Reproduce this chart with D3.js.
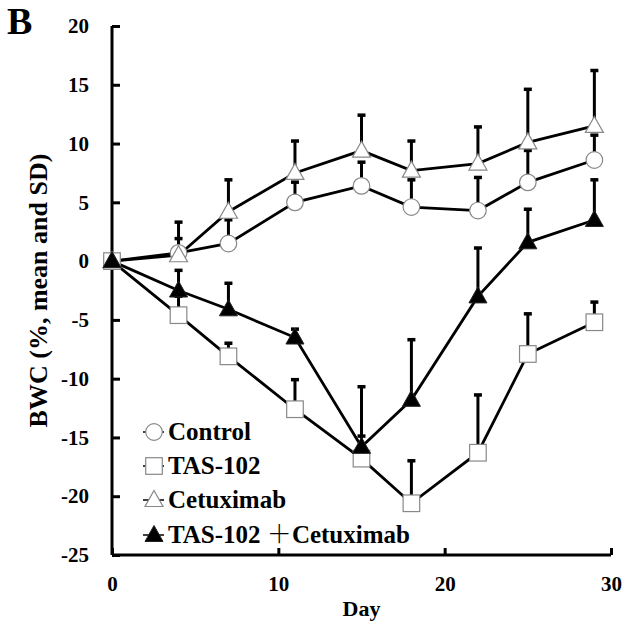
<!DOCTYPE html>
<html>
<head>
<meta charset="utf-8">
<script src="https://cdn.jsdelivr.net/npm/d3@7"></script>
</head>
<body style="margin:0;padding:0;background:#fff">
<svg id="chart" width="630" height="635" style="display:block"></svg>
<script>
// ---- Data ----
const days = [0, 4, 7, 11, 15, 18, 22, 25, 29];
const controlMean   = [0, 0.7, 1.5, 5.0, 6.4, 4.6, 4.3, 6.7, 8.6];
const controlTop    = [0, 2.0, 3.6, 6.8, 8.5, 7.0, 7.2, 9.5, 10.8];
const tasMean       = [0, -4.6, -8.1, -12.6, -16.8, -20.6, -16.3, -7.9, -5.2];
const tasTop        = [0, -2.9, -6.9, -10.0, -14.8, -16.9, -11.3, -4.4, -3.4];
const cetMean       = [0, 0.5, 4.2, 7.5, 9.4, 7.7, 8.3, 10.1, 11.5];
const cetTop        = [0, 3.4, 7.0, 10.3, 12.5, 10.3, 11.5, 14.7, 16.3];
const comboMean     = [0, -2.5, -4.1, -6.5, -15.8, -11.8, -3.0, 1.6, 3.5];
const comboTop      = [0, -0.7, -1.8, -5.7, -10.6, -6.6, 1.2, 4.5, 7.0];
const seriesNames   = ["Control", "TAS-102", "Cetuximab", "TAS-102 \uFF0BCetuximab"];
const yTicks = [-25, -20, -15, -10, -5, 0, 5, 10, 15, 20];
const xTicks = [0, 10, 20, 30];

const series = [
  { name: seriesNames[0], mean: controlMean, top: controlTop, shape: "circle" },
  { name: seriesNames[1], mean: tasMean, top: tasTop, shape: "square" },
  { name: seriesNames[2], mean: cetMean, top: cetTop, shape: "triangle" },
  { name: seriesNames[3], mean: comboMean, top: comboTop, shape: "filledTriangle" }
];

const FONT = "'Liberation Serif', 'Times New Roman', serif";
const svg = d3.select("#chart");
const x = d3.scaleLinear().domain([0, 30]).range([112, 611]);
const y = d3.scaleLinear().domain([-25, 20]).range([555, 26]);

// ---- Axes ----
const yAxis = d3.axisLeft(y).tickValues(yTicks).tickSize(-8).tickPadding(23)
  .tickFormat(d => String(d));
const xAxis = d3.axisBottom(x).tickValues(xTicks).tickSize(-7).tickPadding(21)
  .tickFormat(d => String(d));

const gy = svg.append("g").attr("transform", `translate(${x(0)},0)`).call(yAxis);
const gx = svg.append("g").attr("transform", `translate(0,${y(-25)})`).call(xAxis);
[gy, gx].forEach(g => {
  g.select(".domain").attr("stroke", "#000").attr("stroke-width", 3);
  g.selectAll(".tick line").attr("stroke", "#000").attr("stroke-width", 3);
  g.selectAll(".tick text").style("font-size", "21px").attr("fill", "#000");
});
gy.select(".domain").attr("d", `M0,${y(20)}V${y(-25)}`);
gx.select(".domain").attr("d", `M${x(0)},0H${x(30)}`);

// axis titles
svg.append("text").attr("x", (x(0) + x(30)) / 2).attr("y", 616)
  .attr("text-anchor", "middle").style("font-size", "22px").text("Day");
svg.append("text")
  .attr("transform", `translate(47,${(y(20) + y(-25)) / 2}) rotate(-90)`)
  .attr("text-anchor", "middle").style("font-size", "26px").text("BWC (%, mean and SD)");
svg.append("text").attr("x", 7).attr("y", 34).style("font-size", "38px").text("B");

// ---- Marker drawing ----
function drawMarker(g, shape, cx, cy) {
  if (shape === "circle") {
    g.append("circle").attr("cx", cx).attr("cy", cy).attr("r", 8.3)
      .attr("fill", "#fff").attr("stroke", "#888").attr("stroke-width", 1.2);
  } else if (shape === "square") {
    g.append("rect").attr("x", cx - 8.3).attr("y", cy - 8.3).attr("width", 16.6).attr("height", 16.6)
      .attr("fill", "#fff").attr("stroke", "#888").attr("stroke-width", 1.2);
  } else if (shape === "triangle") {
    g.append("path").attr("d", `M${cx},${cy - 9.5}L${cx + 9},${cy + 6.5}L${cx - 9},${cy + 6.5}Z`)
      .attr("fill", "#fff").attr("stroke", "#888").attr("stroke-width", 1.2);
  } else {
    g.append("path").attr("d", `M${cx},${cy - 9.5}L${cx + 9},${cy + 6.5}L${cx - 9},${cy + 6.5}Z`)
      .attr("fill", "#000").attr("stroke", "#222").attr("stroke-width", 1);
  }
}

const plot = svg.append("g");
const barLayer = plot.append("g");
const lineLayer = plot.append("g");
const markLayer = plot.append("g");

const line = d3.line().x((d, i) => x(days[i])).y(d => y(d));

series.forEach(s => {
  days.forEach((d, i) => {
    if (i === 0) return;
    barLayer.append("line").attr("x1", x(d)).attr("x2", x(d))
      .attr("y1", y(s.mean[i])).attr("y2", y(s.top[i]))
      .attr("stroke", "#000").attr("stroke-width", 3);
    barLayer.append("line").attr("x1", x(d) - 4).attr("x2", x(d) + 4)
      .attr("y1", y(s.top[i]) + 1).attr("y2", y(s.top[i]) + 1)
      .attr("stroke", "#000").attr("stroke-width", 3.5);
  });
  lineLayer.append("path").datum(s.mean).attr("d", line)
    .attr("fill", "none").attr("stroke", "#000").attr("stroke-width", 2.8);
});
series.forEach(s => {
  days.forEach((d, i) => drawMarker(markLayer, s.shape, x(d), y(s.mean[i])));
});

// ---- Legend ----
const legY = [432, 466, 500, 535];
const leg = svg.append("g");
series.forEach((s, i) => {
  leg.append("line").attr("x1", 143).attr("x2", 164).attr("y1", legY[i]).attr("y2", legY[i])
    .attr("stroke", "#000").attr("stroke-width", 1.5);
  drawMarker(leg, s.shape, 154, legY[i]);
  const t = leg.append("text").attr("x", 168).attr("y", legY[i] + 8).style("font-size", "25px");
  if (i === 3) {
    t.append("tspan").text("TAS-102 ");
    t.append("tspan").attr("class", "plus").text("\uFF0B");
    t.append("tspan").text("Cetuximab");
  } else {
    t.text(s.name);
  }
});

// apply fonts inline to every text
svg.selectAll("text").style("font-family", FONT).style("font-weight", "bold").attr("fill", "#000");
svg.selectAll("tspan.plus").style("font-family", "'Noto Sans CJK JP'").style("font-weight", "300");
</script>
</body>
</html>
